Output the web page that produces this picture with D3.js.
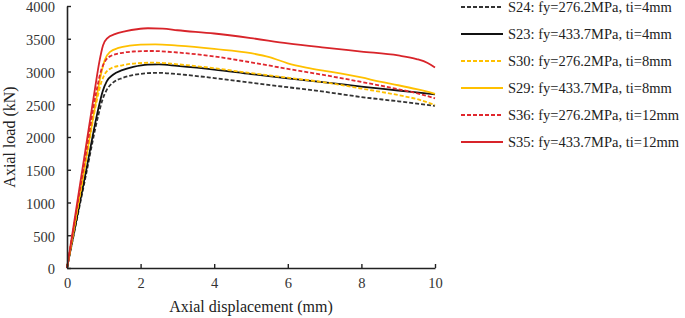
<!DOCTYPE html>
<html>
<head>
<meta charset="utf-8">
<script src="https://cdn.jsdelivr.net/npm/d3@7"></script>
<style>
  html, body { margin: 0; padding: 0; background: #fff; }
  svg { display: block; font-family: "Liberation Serif", "Times New Roman", serif; }
  .tick text { font-size: 14.5px; fill: #333; }
  .axis-title { font-size: 16px; fill: #222; }
  .legend-text { font-size: 14.5px; fill: #222; }
</style>
</head>
<body>
<div id="chart"></div>
<script>
// ── Data ──────────────────────────────────────────
const xTicks = [0, 2, 4, 6, 8, 10];
const yTicks = [0, 500, 1000, 1500, 2000, 2500, 3000, 3500, 4000];

const seriesNames = [
  "S24: fy=276.2MPa, ti=4mm",
  "S23: fy=433.7MPa, ti=4mm",
  "S30: fy=276.2MPa, ti=8mm",
  "S29: fy=433.7MPa, ti=8mm",
  "S36: fy=276.2MPa, ti=12mm",
  "S35: fy=433.7MPa, ti=12mm"
];
const seriesColors = ["#333333", "#111111", "#FFC000", "#FFC000", "#E0282E", "#D8242A"];
const seriesDashed = [true, false, true, false, true, false];

// displacement (mm) / axial load (kN) per specimen
const s24Disp = [0, 0.5, 0.85, 0.97, 1.08, 1.25, 1.5, 1.8, 2.2, 2.5, 3, 4, 5, 6, 7, 8, 9, 10];
const s24Load = [0, 1380, 2330, 2580, 2720, 2830, 2900, 2945, 2975, 2980, 2960, 2900, 2830, 2760, 2690, 2610, 2545, 2475];

const s23Disp = [0, 0.5, 0.85, 0.97, 1.08, 1.25, 1.5, 1.8, 2.2, 2.5, 3, 4, 5, 6, 7, 8, 9, 10];
const s23Load = [0, 1430, 2430, 2700, 2850, 2950, 3020, 3070, 3105, 3108, 3085, 3030, 2960, 2895, 2835, 2770, 2710, 2650];

const s30Disp = [0, 0.5, 0.8, 0.93, 1.05, 1.2, 1.5, 1.9, 2.4, 3, 4, 5, 6, 7, 8, 9, 9.5, 10];
const s30Load = [0, 1580, 2530, 2830, 2980, 3050, 3095, 3125, 3135, 3110, 3050, 2975, 2905, 2835, 2740, 2640, 2580, 2490];

const s29Disp = [0, 0.5, 0.8, 0.92, 1.03, 1.17, 1.4, 1.7, 2, 2.4, 3, 4, 5, 5.5, 6, 6.5, 7, 7.5, 8, 8.5, 9, 9.5, 10];
const s29Load = [0, 1620, 2590, 2950, 3180, 3300, 3360, 3395, 3410, 3415, 3395, 3345, 3280, 3220, 3125, 3060, 3010, 2965, 2910, 2845, 2790, 2730, 2660];

const s36Disp = [0, 0.5, 0.8, 0.93, 1.05, 1.2, 1.5, 1.8, 2.3, 3, 4, 5, 6, 7, 8, 9, 9.5, 10];
const s36Load = [0, 1700, 2700, 3020, 3170, 3240, 3285, 3305, 3313, 3290, 3230, 3140, 3040, 2945, 2840, 2730, 2670, 2590];

const s35Disp = [0, 0.25, 0.5, 0.75, 0.88, 0.98, 1.1, 1.3, 1.6, 1.9, 2.2, 2.6, 3, 4, 5, 6, 7, 8, 9, 9.5, 9.8, 10];
const s35Load = [0, 900, 1800, 2700, 3150, 3400, 3510, 3570, 3615, 3645, 3660, 3655, 3630, 3580, 3510, 3430, 3365, 3305, 3245, 3190, 3130, 3060];

const seriesDisp = [s24Disp, s23Disp, s30Disp, s29Disp, s36Disp, s35Disp];
const seriesLoad = [s24Load, s23Load, s30Load, s29Load, s36Load, s35Load];

// ── Layout ────────────────────────────────────────
const width = 685, height = 318;
const plot = { left: 67, right: 435, top: 6, bottom: 268 };

const svg = d3.select("#chart").append("svg")
  .attr("width", width)
  .attr("height", height);

const x = d3.scaleLinear().domain([0, 10]).range([plot.left, plot.right]);
const y = d3.scaleLinear().domain([0, 4000]).range([plot.bottom, plot.top]);

// ── Lines ─────────────────────────────────────────
const line = d3.line()
  .x(d => x(d[0]))
  .y(d => y(d[1]))
  .curve(d3.curveMonotoneX);

seriesNames.forEach((name, i) => {
  const pts = seriesDisp[i].map((d, j) => [d, seriesLoad[i][j]]);
  svg.append("path")
    .datum(pts)
    .attr("fill", "none")
    .attr("stroke", seriesColors[i])
    .attr("stroke-width", 1.8)
    .attr("stroke-dasharray", seriesDashed[i] ? "4,2" : null)
    .attr("d", line);
});

// ── Axes ──────────────────────────────────────────
const xAxis = d3.axisBottom(x).tickValues(xTicks).tickFormat(d3.format("d"))
  .tickSizeInner(-4).tickSizeOuter(0).tickPadding(10);
const yAxis = d3.axisLeft(y).tickValues(yTicks).tickFormat(d3.format("d"))
  .tickSizeInner(-4).tickSizeOuter(0).tickPadding(12);

const gx = svg.append("g").attr("transform", `translate(0,${plot.bottom})`).call(xAxis);
const gy = svg.append("g").attr("transform", `translate(${plot.left},0)`).call(yAxis);

[gx, gy].forEach(g => {
  g.attr("font-family", null).attr("font-size", null);
  g.select(".domain").attr("stroke", "#222").attr("stroke-width", 1.6);
  g.selectAll(".tick line").attr("stroke", "#222").attr("stroke-width", 1.4);
});
gy.selectAll(".tick text").attr("dy", "0.4em");

// Axis titles
svg.append("text")
  .attr("class", "axis-title")
  .attr("x", 251)
  .attr("y", 312)
  .attr("text-anchor", "middle")
  .text("Axial displacement  (mm)");

svg.append("text")
  .attr("class", "axis-title")
  .attr("transform", `translate(15,${(plot.top + plot.bottom) / 2}) rotate(-90)`)
  .attr("text-anchor", "middle")
  .text("Axial load (kN)");

// ── Legend ────────────────────────────────────────
const legend = svg.append("g").attr("transform", "translate(461,7)");
seriesNames.forEach((name, i) => {
  const g = legend.append("g").attr("transform", `translate(0,${i * 27})`);
  g.append("line")
    .attr("x1", 0).attr("x2", 42)
    .attr("y1", 0).attr("y2", 0)
    .attr("stroke", seriesColors[i])
    .attr("stroke-width", 1.8)
    .attr("stroke-dasharray", seriesDashed[i] ? "4,2" : null);
  g.append("text")
    .attr("class", "legend-text")
    .attr("x", 47)
    .attr("y", 5)
    .text(name);
});
</script>
</body>
</html>
